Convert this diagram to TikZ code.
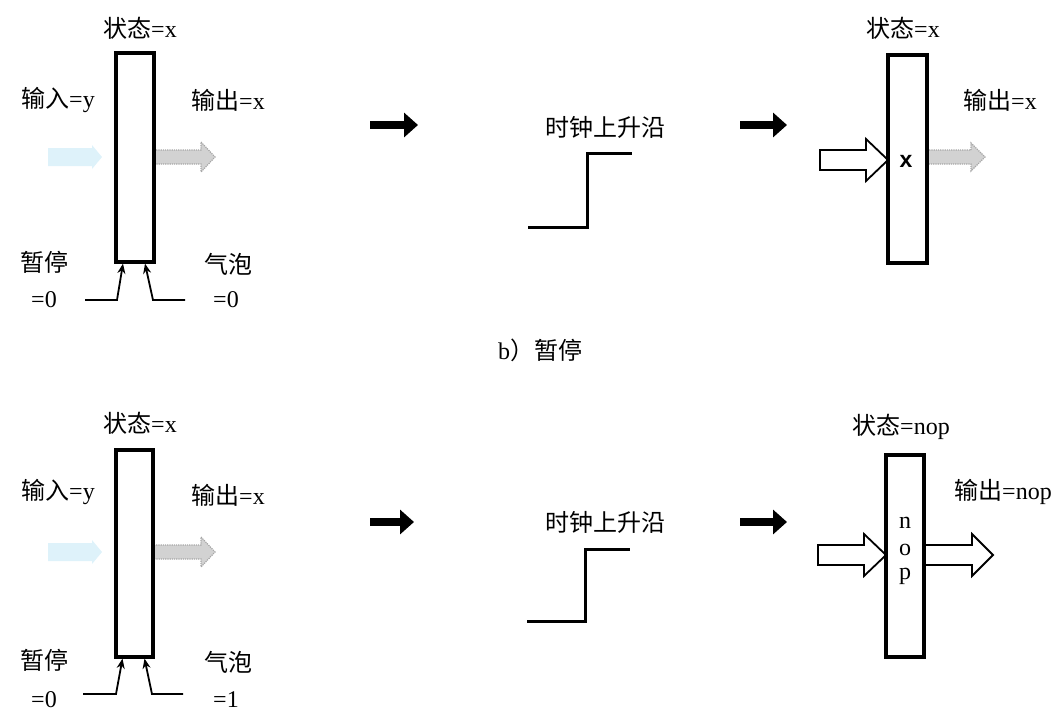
\documentclass[tikz,border=0pt]{standalone}
\usepackage{fontspec}
\setmainfont{Liberation Serif}
\newfontfamily\cjk{Noto Sans CJK SC}
\newfontfamily\sansx{Liberation Sans}
\usetikzlibrary{arrows.meta}
\tikzset{
  stagebox/.style={draw, line width=3.2pt, fill=white, inner sep=0pt},
  lbl/.style={inner sep=0pt, font=\fontsize{24}{27}\selectfont},
  bigarrow/.style={line width=8pt, -{Triangle[length=14pt,width=24pt]}},
  smallarrow/.style={line width=1.8pt, -{Stealth[length=10pt,width=8pt]}},
  clock/.style={line width=3pt},
  hollow/.style={draw, line width=1.8pt, fill=white, line join=miter},
  faded/.style={draw=gray!70, densely dotted, line width=1.2pt, fill=gray!35},
  ghost/.style={fill={rgb,255:red,222;green,242;blue,250}, draw=none}
}
% arrow polygon: style, x1, x2 (tip), y, shaft half, head half, head length
\newcommand\arrowshape[7]{%
  \path[#1] (#2,#4-#5) -- (#3-#7,#4-#5) -- (#3-#7,#4-#6) -- (#3,#4) -- (#3-#7,#4+#6) -- (#3-#7,#4+#5) -- (#2,#4+#5) -- cycle;}
\begin{document}
\begin{tikzpicture}[x=1pt,y=-1pt]
\useasboundingbox (0,0) rectangle (1063,718);

% ===== top row =====
\arrowshape{ghost}{48}{102}{157}{9}{12}{10}
\arrowshape{faded}{154}{215}{157}{7}{15}{14}
\node[stagebox, minimum width=38pt, minimum height=209pt] (a1) at (135,157.5) {};
\node[lbl] (a1s) at (140,28) {{\cjk 状态}=x};
\node[lbl] (a1i) at (58,100) {{\cjk 输入}=y};
\node[lbl] (a1o) at (228,100) {{\cjk 输出}=x};
\node[lbl] (a1p) at (44,262) {\cjk 暂停};
\node[lbl] (a1pv) at (44,300) {=0};
\node[lbl] (a1b) at (228,264) {\cjk 气泡};
\node[lbl] (a1bv) at (226,300) {=0};
\coordinate (a1l) at (85,300);
\coordinate (a1r) at (185,300);
\draw[smallarrow] (a1l) -- (117,300) -- ([xshift=-12pt]a1.south);
\draw[smallarrow] (a1r) -- (153,300) -- ([xshift=10pt]a1.south);

\coordinate (t1a) at (370,125); \coordinate (t1b) at (418,125);
\draw[bigarrow] (t1a) -- (t1b);
\node[lbl] (c1) at (605,127) {\cjk 时钟上升沿};
\coordinate (c1a) at (528,227); \coordinate (c1b) at (632,153);
\draw[clock] (c1a) -- (587,227) -- (587,153) -- (c1b);
\coordinate (t2a) at (740,125); \coordinate (t2b) at (787,125);
\draw[bigarrow] (t2a) -- (t2b);

\arrowshape{hollow}{820}{888}{160}{10}{21}{22}
\arrowshape{faded}{927}{985}{157}{7}{14}{14}
\node[stagebox, minimum width=39pt, minimum height=208pt] (a2) at (907.5,159) {};
\node[inner sep=0pt, font=\sansx\bfseries\fontsize{23}{26}\selectfont] (a2x) at (906,161) {x};
\node[lbl] (a2s) at (903,28) {{\cjk 状态}=x};
\node[lbl] (a2o) at (1000,100) {{\cjk 输出}=x};

\node[lbl] (cap) at (540,350) {b{\cjk ）暂停}};

% ===== bottom row =====
\arrowshape{ghost}{48}{102}{552}{9}{12}{10}
\arrowshape{faded}{154}{215}{552}{7}{15}{14}
\node[stagebox, minimum width=37pt, minimum height=207pt] (b1) at (134.5,553.5) {};
\node[lbl] (b1s) at (140,423) {{\cjk 状态}=x};
\node[lbl] (b1i) at (58,492) {{\cjk 输入}=y};
\node[lbl] (b1o) at (228,495) {{\cjk 输出}=x};
\node[lbl] (b1p) at (44,660) {\cjk 暂停};
\node[lbl] (b1pv) at (44,700) {=0};
\node[lbl] (b1b) at (228,662) {\cjk 气泡};
\node[lbl] (b1bv) at (226,700) {=1};
\coordinate (b1l) at (83,694);
\coordinate (b1r) at (183,694);
\draw[smallarrow] (b1l) -- (116,694) -- ([xshift=-12pt]b1.south);
\draw[smallarrow] (b1r) -- (152,694) -- ([xshift=10pt]b1.south);

\coordinate (t3a) at (370,522); \coordinate (t3b) at (414,522);
\draw[bigarrow] (t3a) -- (t3b);
\node[lbl] (c2) at (605,522) {\cjk 时钟上升沿};
\coordinate (c2a) at (527,621); \coordinate (c2b) at (630,549);
\draw[clock] (c2a) -- (585,621) -- (585,549) -- (c2b);
\coordinate (t4a) at (740,522); \coordinate (t4b) at (787,522);
\draw[bigarrow] (t4a) -- (t4b);

\arrowshape{hollow}{818}{886}{555}{10}{21}{22}
\arrowshape{hollow}{924}{993}{555}{10}{21}{21}
\node[stagebox, minimum width=38pt, minimum height=202pt] (b2) at (905,556) {};
\node[lbl] (b2n) at (905,523) {n};
\node[lbl] (b2o2) at (905,550) {o};
\node[lbl] (b2p) at (905,576) {p};
\node[lbl] (b2s) at (901,427) {{\cjk 状态}=nop};
\node[lbl] (b2o) at (1003,492) {{\cjk 输出}=nop};
\end{tikzpicture}
\end{document}
